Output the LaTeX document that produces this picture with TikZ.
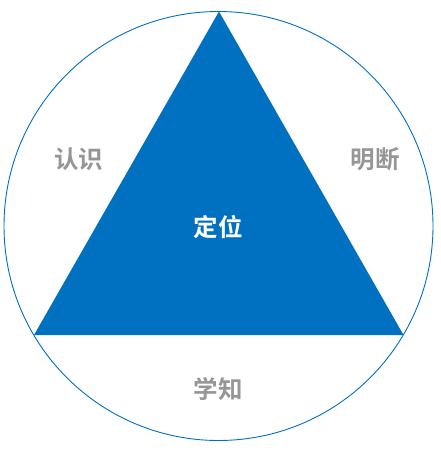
\documentclass[tikz,border=0pt]{standalone}
\usepackage{fontspec}
\newfontfamily\cjk{Noto Sans CJK SC Bold}
\definecolor{tblue}{HTML}{0070C0}
\definecolor{tgray}{HTML}{969696}
\begin{document}
\begin{tikzpicture}[x=1pt,y=-1pt,
  lbl/.style={font=\cjk\fontsize{24.5}{26}\selectfont,text=tgray,inner sep=0pt},
  wlbl/.style={font=\cjk\fontsize{24.5}{26}\selectfont,text=white,inner sep=0pt}]
\useasboundingbox (0,0) rectangle (440,452);
\coordinate (c) at (218.5,226);
\coordinate (t) at (219,11.5);
\coordinate (bl) at (34,335);
\coordinate (br) at (403.5,335);
\draw[tblue,line width=0.9pt] (c) circle[radius=214.5];
\fill[tblue] (t) -- (bl) -- (br) -- cycle;
\node[lbl] (rs) at (78.5,159) {认识};
\node[lbl] (md) at (375,159) {明断};
\node[lbl] (xz) at (218,389) {学知};
\node[wlbl] (dw) at (218,227) {定位};
\end{tikzpicture}
\end{document}
